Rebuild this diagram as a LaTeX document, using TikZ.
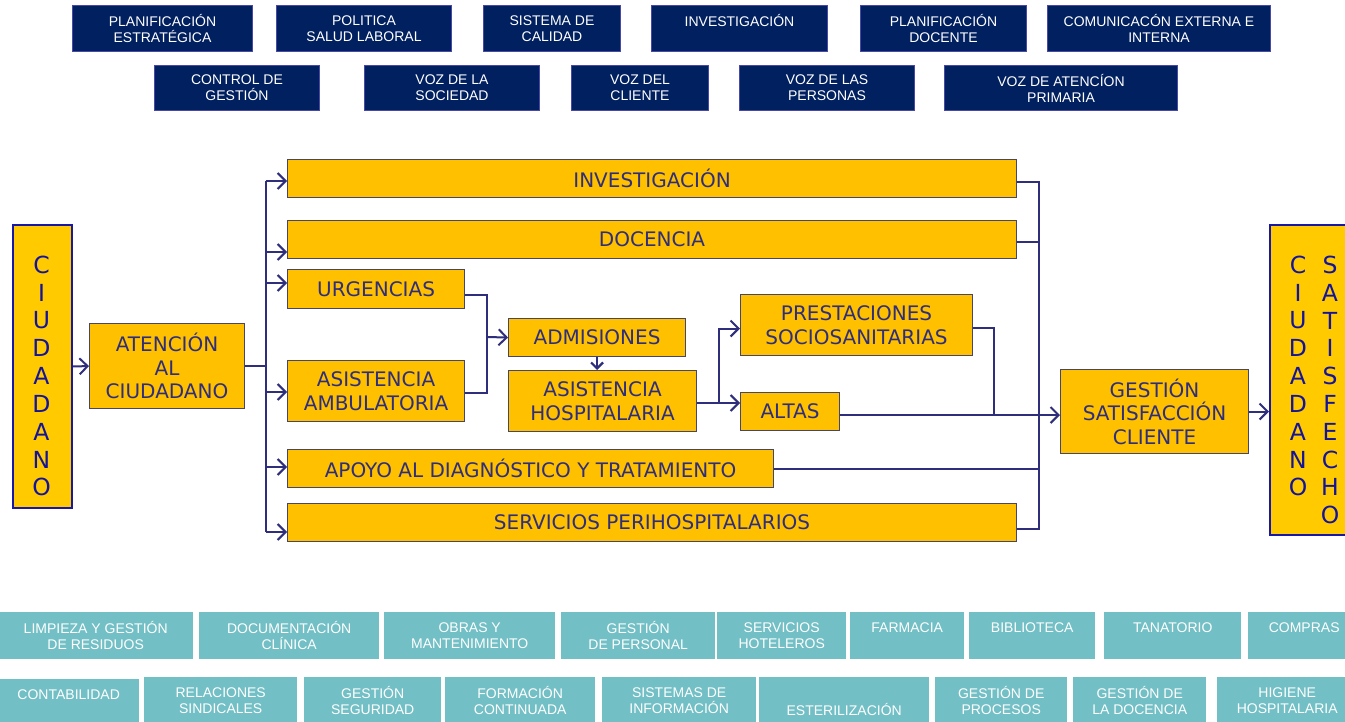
\documentclass[tikz,border=0pt]{standalone}
\usepackage{fontspec}
\usetikzlibrary{arrows.meta}
\newfontfamily\smallsans{Liberation Sans}
\newfontfamily\widesans{DejaVu Sans}
\definecolor{navyfill}{HTML}{002060}
\definecolor{navyedge}{HTML}{4848A8}
\definecolor{amber}{HTML}{FFC000}
\definecolor{amberlight}{HTML}{FFCA00}
\definecolor{amberedge}{HTML}{45456E}
\definecolor{inktext}{HTML}{2E2E7C}
\definecolor{bluetext}{HTML}{14149A}
\definecolor{blueedge}{HTML}{1818A8}
\definecolor{conncol}{HTML}{2E2E7C}
\definecolor{teal}{HTML}{72BFC5}
\tikzset{
  x=1pt, y=-1pt,
  topbox/.style={draw=navyedge, line width=1pt, fill=navyfill, text=white,
    font=\smallsans\fontsize{14}{16}\selectfont, align=center,
    inner sep=0pt, anchor=north west},
  procbox/.style={draw=amberedge, line width=1.1pt, fill=amber, text=inktext,
    font=\widesans\fontsize{20}{23.5}\selectfont, align=center,
    inner sep=0pt, anchor=north west},
  citbox/.style={draw=blueedge, line width=2pt, fill=amberlight,
    inner sep=0pt, anchor=north west},
  citletter/.style={text=bluetext, font=\widesans\fontsize{23.5}{26}\selectfont,
    inner sep=0pt},
  supbox/.style={fill=teal, text=white,
    font=\smallsans\fontsize{14}{16}\selectfont, align=center,
    inner sep=0pt, anchor=north west},
  conn/.style={draw=conncol, line width=2pt},
  arr/.style={conn, -{Straight Barb[length=8pt,width=16pt,line width=2pt]}},
  smallarr/.style={conn, -{Straight Barb[length=6pt,width=12pt,line width=2.2pt]}},
}
\begin{document}
\begin{tikzpicture}
\useasboundingbox[fill=white] (0,0) rectangle (1345,722);

% ---- strategic processes (top rows)
\node[topbox, minimum width=180pt, minimum height=46pt] (pe)  at (72,5)   {PLANIFICACIÓN\\ESTRATÉGICA};
\node[topbox, minimum width=175pt, minimum height=46pt] (psl) at (276,5)  {POLITICA\\SALUD LABORAL};
\node[topbox, minimum width=137pt, minimum height=46pt] (sc)  at (483,5)  {SISTEMA DE\\CALIDAD};
\node[topbox, minimum width=176pt, minimum height=46pt] (inv0) at (651,5) {INVESTIGACIÓN\\~};
\node[topbox, minimum width=166pt, minimum height=46pt] (pd)  at (860,5)  {PLANIFICACIÓN\\DOCENTE};
\node[topbox, minimum width=223pt, minimum height=46pt] (com) at (1047,5) {COMUNICACÓN EXTERNA E\\INTERNA};

\node[topbox, minimum width=165pt, minimum height=45pt] (cg)  at (154,65) {CONTROL DE\\GESTIÓN};
\node[topbox, minimum width=175pt, minimum height=45pt] (vs)  at (364,65) {VOZ DE LA\\SOCIEDAD};
\node[topbox, minimum width=137pt, minimum height=45pt] (vc)  at (571,65) {VOZ DEL\\CLIENTE};
\node[topbox, minimum width=175pt, minimum height=45pt] (vp)  at (739,65) {VOZ DE LAS\\PERSONAS};
\node[topbox, minimum width=233pt, minimum height=45pt] (vap) at (944,65) {VOZ DE ATENCÍON\\PRIMARIA};

% ---- citizen in / out
\node[citbox, minimum width=59pt, minimum height=283pt] (ciu) at (12,224) {};
\foreach \l [count=\i from 0] in {C,I,U,D,A,D,A,N,O}
  \node[citletter] (ciu\i) at (41.5,265+27.8*\i) {\l};

\node[citbox, minimum width=100pt, minimum height=310pt] (csat) at (1269,224) {};
\foreach \l [count=\i from 0] in {C,I,U,D,A,D,A,N,O}
  \node[citletter] (csa\i) at (1298,265+27.8*\i) {\l};
\foreach \l [count=\i from 0] in {S,A,T,I,S,F,E,C,H,O}
  \node[citletter] (csb\i) at (1330,265+27.8*\i) {\l};

% ---- operational processes
\node[procbox, minimum width=155pt, minimum height=85pt] (aten) at (89,323) {ATENCIÓN\\AL\\CIUDADANO};
\node[procbox, minimum width=729pt, minimum height=38pt] (inv)  at (287,159) {INVESTIGACIÓN};
\node[procbox, minimum width=729pt, minimum height=38pt] (doc)  at (287,220) {DOCENCIA};
\node[procbox, minimum width=177pt, minimum height=39pt] (urg)  at (287,269) {URGENCIAS};
\node[procbox, minimum width=177pt, minimum height=61pt] (amb)  at (287,360) {ASISTENCIA\\AMBULATORIA};
\node[procbox, minimum width=486pt, minimum height=38pt] (apo)  at (287,449) {APOYO AL DIAGNÓSTICO Y TRATAMIENTO};
\node[procbox, minimum width=729pt, minimum height=38pt] (serv) at (287,503) {SERVICIOS PERIHOSPITALARIOS};
\node[procbox, minimum width=177pt, minimum height=38pt] (adm)  at (508,318) {ADMISIONES};
\node[procbox, minimum width=188pt, minimum height=61pt] (hosp) at (508,370) {ASISTENCIA\\HOSPITALARIA};
\node[procbox, minimum width=232pt, minimum height=61pt] (pres) at (740,294) {PRESTACIONES\\SOCIOSANITARIAS};
\node[procbox, minimum width=99pt,  minimum height=38pt] (alt)  at (740,392) {ALTAS};
\node[procbox, minimum width=188pt, minimum height=84pt] (gest) at (1060,369) {GESTIÓN\\SATISFACCIÓN\\CLIENTE};

% ---- junction points
\coordinate (b1) at (266,181);
\coordinate (b2) at (266,252);
\coordinate (b3) at (266,283);
\coordinate (b4) at (266,392);
\coordinate (b5) at (266,467);
\coordinate (b6) at (266,532);
\coordinate (ja) at (487,337);
\coordinate (jh) at (719,403);
\coordinate (jp) at (994,414.5);
\coordinate (r1) at (1039,181);
\coordinate (r6) at (1039,529);

% ---- connectors
\draw[arr] (ciu.east) -- (aten.west);
\draw[conn] (aten.east) -- (aten.east -| b1);
\draw[conn] (b1) -- (b6);
\foreach \b/\t in {b1/inv, b2/doc, b3/urg, b4/amb, b5/apo, b6/serv}
  \draw[arr] (\b) -- (\b -| \t.west);

\draw[conn] ([yshift=-5.5pt]urg.east) -| (ja) |- ([yshift=-1.5pt]amb.east);
\draw[arr] (ja) -- (adm.west);
\draw[smallarr] (adm.south) -- (adm.south |- hosp.north);

\draw[conn] (jh -| hosp.east) -- (jh);
\draw[arr] (jh) -- (jh -| alt.west);
\draw[arr] (jh) |- ([yshift=-3.5pt]pres.west);

\draw[conn] ([yshift=-3pt]pres.east) -| (jp);
\draw[arr, line width=2.6pt] ([yshift=-3.5pt]alt.east) -- ([yshift=-3.5pt]gest.west);

\draw[conn] ([yshift=-3pt]inv.east) -| (r6) -- (r6 -| serv.east);
\draw[conn] ([yshift=-2pt]doc.east) -- ([yshift=-2pt]doc.east -| r1);
\draw[conn] (apo.east) -- (apo.east -| r1);

\draw[arr] (gest.east) -- (gest.east -| csat.west);

% ---- support processes (bottom rows)
\node[supbox, minimum width=195pt, minimum height=47pt] (s1)  at (-2,612)  {LIMPIEZA Y GESTIÓN\\DE RESIDUOS};
\node[supbox, minimum width=180pt, minimum height=47pt] (s2)  at (199,612) {DOCUMENTACIÓN\\CLÍNICA};
\node[supbox, minimum width=171pt, minimum height=47pt] (s3)  at (384,612) {OBRAS Y\\MANTENIMIENTO};
\node[supbox, minimum width=154pt, minimum height=47pt] (s4)  at (561,612) {GESTIÓN\\DE PERSONAL};
\node[supbox, minimum width=129pt, minimum height=47pt] (s5)  at (717,612) {SERVICIOS\\HOTELEROS};
\node[supbox, minimum width=114pt, minimum height=47pt] (s6)  at (850,612) {FARMACIA\\~};
\node[supbox, minimum width=126pt, minimum height=47pt] (s7)  at (969,612) {BIBLIOTECA\\~};
\node[supbox, minimum width=137pt, minimum height=47pt] (s8)  at (1104,612) {TANATORIO\\~};
\node[supbox, minimum width=112pt, minimum height=47pt] (s9)  at (1248,612) {COMPRAS\\~};

\node[supbox, minimum width=141pt, minimum height=47pt] (u1)  at (-2,679)  {CONTABILIDAD\\~};
\node[supbox, minimum width=153pt, minimum height=48pt] (u2)  at (144,676.5) {RELACIONES\\SINDICALES};
\node[supbox, minimum width=137pt, minimum height=48pt] (u3)  at (304,676.5) {GESTIÓN\\SEGURIDAD};
\node[supbox, minimum width=150pt, minimum height=48pt] (u4)  at (445,676.5) {FORMACIÓN\\CONTINUADA};
\node[supbox, minimum width=154pt, minimum height=48pt] (u5)  at (602,676.5) {SISTEMAS DE\\INFORMACIÓN};
\node[supbox, minimum width=170pt, minimum height=48pt] (u6)  at (759,676.5) {\strut\\ESTERILIZACIÓN};
\node[supbox, minimum width=132pt, minimum height=48pt] (u7)  at (935,676.5) {GESTIÓN DE\\PROCESOS};
\node[supbox, minimum width=133pt, minimum height=48pt] (u8)  at (1073,676.5) {GESTIÓN DE\\LA DOCENCIA};
\node[supbox, minimum width=140pt, minimum height=48pt] (u9)  at (1217,676.5) {HIGIENE\\HOSPITALARIA};
\end{tikzpicture}
\end{document}
